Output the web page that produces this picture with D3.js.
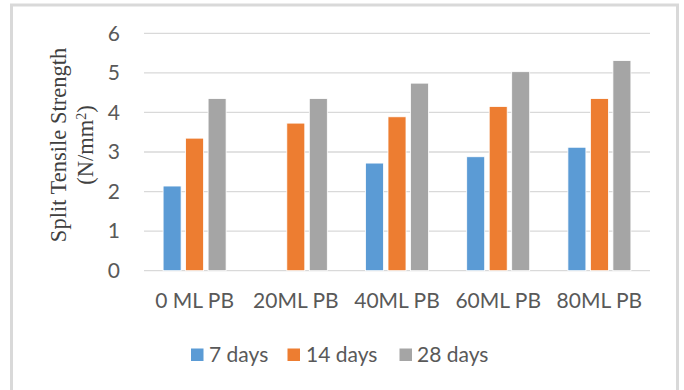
<!DOCTYPE html>
<html>
<head>
<meta charset="utf-8">
<script src="https://cdn.jsdelivr.net/npm/d3@7"></script>
<style>
  html, body { margin: 0; padding: 0; background: #fff; }
  svg { display: block; }
</style>
</head>
<body>
<svg id="chart" width="684" height="390"></svg>
<script>
const categories = ["0 ML PB", "20ML PB", "40ML PB", "60ML PB", "80ML PB"];
const seriesNames = ["7 days", "14 days", "28 days"];
const days7 = [2.14, null, 2.72, 2.88, 3.12];
const days14 = [3.35, 3.73, 3.89, 4.15, 4.35];
const days28 = [4.35, 4.35, 4.74, 5.03, 5.31];
const yTicks = [0, 1, 2, 3, 4, 5, 6];
const colors = ["#5B9BD5", "#ED7D31", "#A5A5A5"];

const seriesValues = [days7, days14, days28];

const svg = d3.select("#chart");
const margin = { left: 144, right: 34, top: 33.3, bottom: 119.3 };
const W = 684, H = 390;
const plotL = margin.left, plotR = W - margin.right;
const plotT = margin.top, plotB = H - margin.bottom;

// chart border
svg.append("rect")
  .attr("x", 11.5).attr("y", 5)
  .attr("width", 666).attr("height", 400)
  .attr("fill", "none").attr("stroke", "#D9D9D9").attr("stroke-width", 3);

const x0 = d3.scaleBand().domain(categories).range([plotL, plotR]).padding(0);
const x1 = d3.scaleBand().domain(seriesNames)
  .range([-33.75, 33.75]).paddingInner(0.2).paddingOuter(0.1);
const y = d3.scaleLinear().domain([0, 6]).range([plotB, plotT]);

// gridlines
svg.append("g").selectAll("line").data(yTicks).join("line")
  .attr("x1", plotL).attr("x2", plotR)
  .attr("y1", d => y(d)).attr("y2", d => y(d))
  .attr("stroke", "#D9D9D9").attr("stroke-width", 1.3);

// bars
const barData = [];
categories.forEach((c, i) => {
  seriesNames.forEach((s, j) => {
    const v = seriesValues[j][i];
    if (v !== null && v !== undefined) barData.push({ c, s, v, j });
  });
});
svg.append("g").selectAll("rect").data(barData).join("rect")
  .attr("x", d => x0(d.c) + x0.bandwidth() / 2 + x1(d.s))
  .attr("y", d => y(d.v))
  .attr("width", x1.bandwidth())
  .attr("height", d => y(0) - y(d.v))
  .attr("fill", d => colors[d.j])
  .attr("stroke", "#fff").attr("stroke-width", 0.8);

// y axis labels
const yAxis = d3.axisLeft(y).tickValues(yTicks).tickSize(0).tickPadding(0).tickFormat(d3.format("d"));
const gy = svg.append("g").attr("transform", `translate(${120},0)`).call(yAxis);
gy.select(".domain").remove();
gy.selectAll("text")
  .attr("font-family", "Lato, 'Open Sans', sans-serif")
  .attr("font-size", 21).attr("fill", "#595959");

// x axis labels
const xAxis = d3.axisBottom(x0).tickSize(0).tickPadding(0);
const gx = svg.append("g").attr("transform", `translate(0,${plotB + 31})`).call(xAxis);
gx.select(".domain").remove();
gx.selectAll("text")
  .attr("font-family", "Lato, 'Open Sans', sans-serif")
  .attr("font-size", 21).attr("fill", "#595959")
  .attr("dy", "0.32em");

// y axis title
const title = svg.append("text")
  .attr("transform", "translate(58,145) rotate(-90)")
  .attr("text-anchor", "middle")
  .attr("font-family", "'Liberation Serif', 'Times New Roman', serif")
  .attr("font-size", 22.5).attr("fill", "#404040");
title.append("tspan").attr("x", 0).attr("dy", "0.35em").text("Split Tensile Strength");
const t2 = title.append("tspan").attr("x", 0).attr("dy", "1.2em").text("(N/mm");
t2.append("tspan").attr("baseline-shift", "super").attr("font-size", 14).text("2");
t2.append("tspan").text(")");

// legend
const legendItems = [
  { name: seriesNames[0], sx: 191, tx: 209 },
  { name: seriesNames[1], sx: 287.5, tx: 306 },
  { name: seriesNames[2], sx: 399.5, tx: 417 }
];
const legY = 355;
const lg = svg.append("g");
legendItems.forEach((d, i) => {
  lg.append("rect").attr("x", d.sx).attr("y", legY - 6.5).attr("width", 12.5).attr("height", 12.5)
    .attr("fill", colors[i]);
  lg.append("text").attr("x", d.tx).attr("y", legY).attr("dy", "0.35em")
    .attr("font-family", "Lato, 'Open Sans', sans-serif")
    .attr("font-size", 21).attr("fill", "#595959").text(d.name);
});
</script>
</body>
</html>
